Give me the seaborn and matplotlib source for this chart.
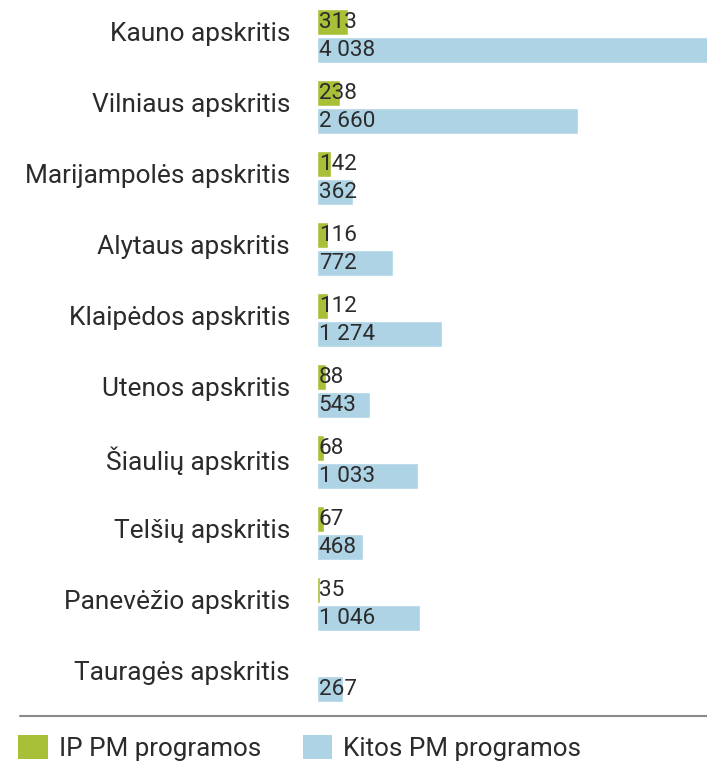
import numpy as np
import pandas as pd
import seaborn as sns
import matplotlib
matplotlib.use("Agg")
import matplotlib.pyplot as plt
from matplotlib.lines import Line2D
from matplotlib.patches import Patch
from matplotlib.transforms import ScaledTranslation

# Data: participants by county
counties = [
    "Kauno apskritis", "Vilniaus apskritis", "Marijampolės apskritis",
    "Alytaus apskritis", "Klaipėdos apskritis", "Utenos apskritis",
    "Šiaulių apskritis", "Telšių apskritis", "Panevėžio apskritis",
    "Tauragės apskritis",
]
ip_pm = [313, 238, 142, 116, 112, 88, 68, 67, 35, np.nan]
kitos_pm = [4038, 2660, 362, 772, 1274, 543, 1033, 468, 1046, 267]
series_names = ["IP PM programos", "Kitos PM programos"]
colors = ["#a8bf38", "#aed3e5"]
text_color = "#2b2b2b"

df = pd.DataFrame({
    "county": counties * 2,
    "program": [series_names[0]] * len(counties) + [series_names[1]] * len(counties),
    "value": ip_pm + kitos_pm,
})

sns.set_theme(style="white")
plt.rcParams["font.family"] = ["Roboto", "DejaVu Sans"]

fig = plt.figure(figsize=(7.07, 7.62), dpi=100)
ax = fig.add_axes([317 / 707, 0.0676, 390 / 707, 0.9318])

sns.barplot(
    data=df, y="county", x="value", hue="program", order=counties,
    hue_order=series_names, palette=colors, orient="h",
    width=0.79, gap=0.07, legend=False, ax=ax, errorbar=None,
    saturation=1,
)

ax.set_xlim(0, 3975)
ax.set_ylim(9.5, -0.5)
ax.set_xlabel("")
ax.set_ylabel("")
ax.set_xticks([])
for s in ax.spines.values():
    s.set_visible(False)

ax.tick_params(axis="y", length=0, pad=19.5, labelsize=18.9, labelcolor=text_color)
shift = ScaledTranslation(0, 4 / 100, fig.dpi_scale_trans)
for lab in ax.get_yticklabels():
    lab.set_transform(lab.get_transform() + shift)

# Value labels at the base of each bar
for container in ax.containers:
    for patch in container:
        w = patch.get_width()
        if not np.isfinite(w) or w <= 0:
            continue
        txt = f"{int(round(w)):,}".replace(",", " ")
        ax.annotate(
            txt, xy=(0, patch.get_y() + patch.get_height() / 2),
            xytext=(1.2, -0.5), textcoords="offset points",
            ha="left", va="center", fontsize=16.2, color=text_color,
        )

# Separator line above the legend
fig.add_artist(Line2D([20 / 707, 1.0], [1 - 716 / 762] * 2,
                      color="#8a8a8a", lw=1.5, transform=fig.transFigure))

handles = [Patch(facecolor=c, edgecolor="none") for c in colors]
fig.legend(
    handles, series_names, loc="center left",
    bbox_to_anchor=(18 / 707, 1 - 748 / 762), ncol=2, frameon=False,
    fontsize=18.7, labelcolor=text_color, handlelength=1.15,
    handleheight=1.03, handletextpad=0.42, columnspacing=1.6,
    borderpad=0, borderaxespad=0,
)

fig.savefig("out.png", dpi=100)
